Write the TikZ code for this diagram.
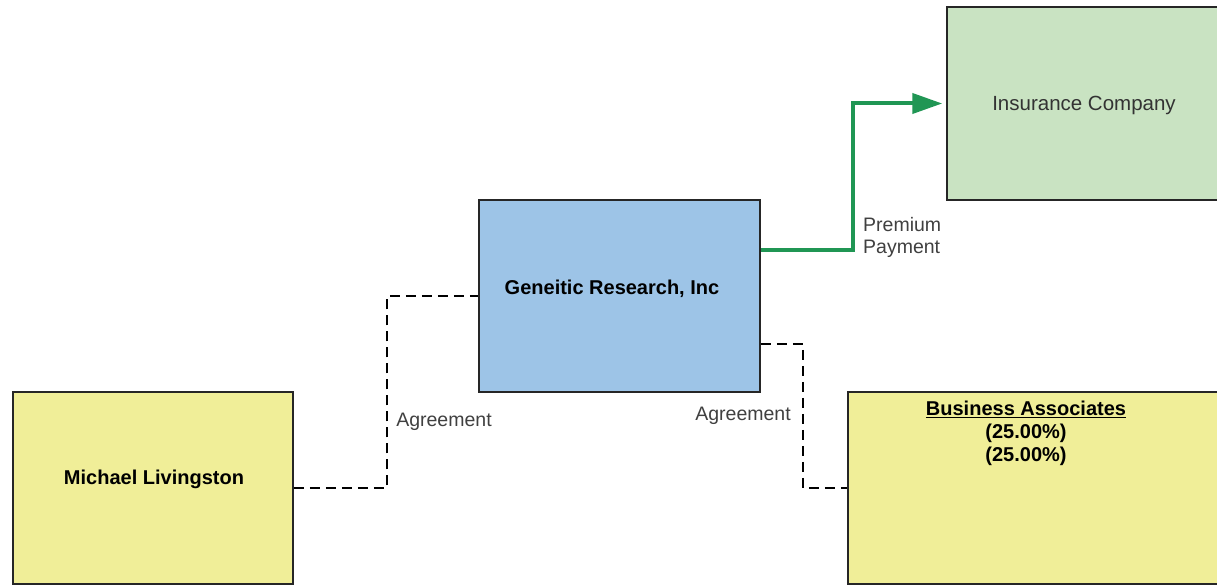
\documentclass[tikz,border=0pt]{standalone}
\usepackage{fontspec}
\setmainfont{Liberation Sans}
\usetikzlibrary{arrows.meta,calc}
\definecolor{boxyellow}{RGB}{240,238,152}
\definecolor{boxblue}{RGB}{157,196,231}
\definecolor{boxgreen}{RGB}{201,227,194}
\definecolor{arrowgreen}{RGB}{32,150,84}
\begin{document}
\begin{tikzpicture}[x=1pt,y=-1pt,
  entity/.style={draw=black!85, line width=1.5pt, rectangle, inner sep=0pt},
  boldtext/.style={font=\fontsize{20}{23}\selectfont\bfseries, inner sep=0pt, align=center},
  plaintext/.style={font=\fontsize{19.5}{22}\selectfont, text=black!75, inner sep=0pt},
  agreementline/.style={draw=black, line width=1.5pt, dash pattern=on 10pt off 6pt},
  payline/.style={draw=arrowgreen, line width=4pt, -{Triangle[length=30pt,width=20pt]}, shorten >=4pt}]
\useasboundingbox (0,0) rectangle (1217,585);
\clip (0,0) rectangle (1217,585);
\fill[white] (0,0) rectangle (1217,585);

% boxes
\node[entity, fill=boxyellow, minimum width=280pt, minimum height=192pt] (ml) at (153,488) {};
\node[entity, fill=boxblue, minimum width=281pt, minimum height=192pt] (gr) at (619.5,296) {};
\node[entity, fill=boxgreen, minimum width=275pt, minimum height=193pt] (ic) at (1084.5,103.5) {};
\node[entity, fill=boxyellow, minimum width=374pt, minimum height=192pt] (ba) at (1035,488) {};

% box texts
\node[boldtext] (mlt) at (154,479) {Michael Livingston};
\node[boldtext] (grt) at (612,289) {Geneitic Research, Inc};
\node[plaintext, font=\fontsize{20.5}{23}\selectfont, text=black!80] (ict) at (1084,105) {Insurance Company};
\node[boldtext] (bat) at (1026,433) {\underline{Business Associates}\\(25.00\%)\\(25.00\%)};

% connectors
\coordinate (c1) at (387,296);
\draw[agreementline] (ml.east) -| (c1) -- (gr.west);
\coordinate (c2) at (803,488);
\draw[agreementline] ($(gr.east)+(0,48)$) -| (c2) -- (ba.west);
\coordinate (c3) at (853,103.5);
\draw[payline] ($(gr.east)+(0,-46)$) -| (c3) -- (ic.west);

% connector labels
\node[plaintext] (ag1) at (444,422) {Agreement};
\node[plaintext] (ag2) at (743,416) {Agreement};
\node[plaintext, anchor=west, align=left] (pp) at (863,237) {Premium\\Payment};
\end{tikzpicture}
\end{document}
